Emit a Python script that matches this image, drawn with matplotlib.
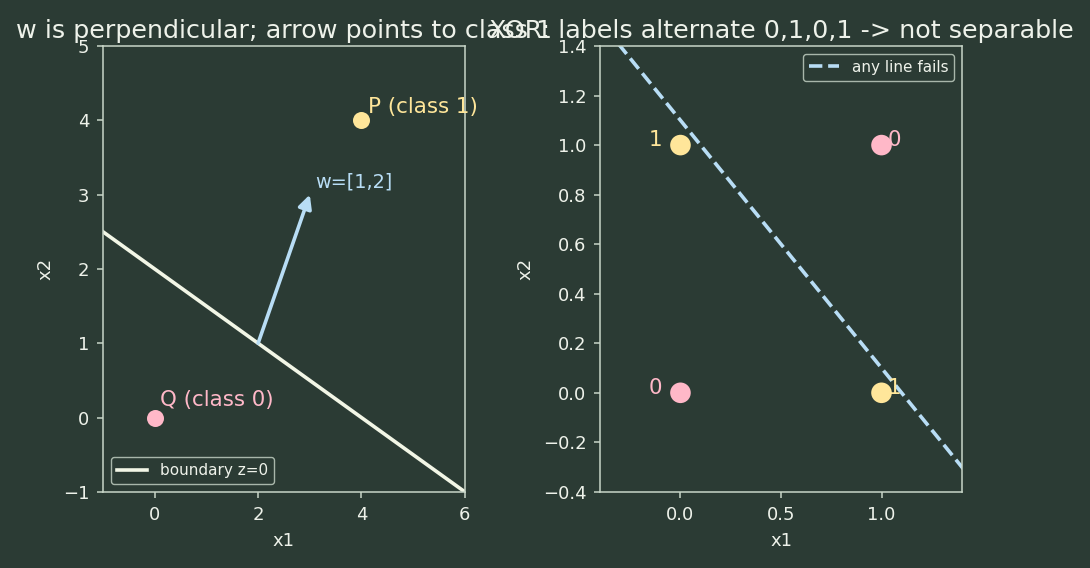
import matplotlib
matplotlib.use("Agg")
import matplotlib.pyplot as plt
import numpy as np

BG = "#2b3b34"
FG = "#eef2ea"
SPINE = "#c8d6c8"
YEL = "#ffe69a"
PINK = "#ffb8c8"
BLUE = "#b8ddf5"
LINEC = "#f2f6e6"

# Left panel data
w = [1, 2]
b = -4
P = (4, 4)
Q = (0, 0)
arrow_start = (2, 1)
boundary_x = [-1, 6]

# Right panel data (XOR)
xor_x = [0, 0, 1, 1]
xor_y = [0, 1, 0, 1]
xor_lab = [0, 1, 1, 0]
fail_x = [-0.5, 1.5]
fail_intercept = 1.1

plt.rcParams.update({
    "figure.facecolor": BG, "axes.facecolor": BG, "savefig.facecolor": BG,
    "axes.edgecolor": SPINE, "text.color": FG, "axes.labelcolor": FG,
    "xtick.color": SPINE, "ytick.color": SPINE,
    "xtick.labelcolor": FG, "ytick.labelcolor": FG,
    "font.size": 13,
    "xtick.major.size": 4.5, "ytick.major.size": 4.5,
    "xtick.major.width": 1.1, "ytick.major.width": 1.1,
    "xtick.major.pad": 5.6, "ytick.major.pad": 5.2,
    "axes.labelpad": 6.0,
    "axes.linewidth": 1.1,
})

fig = plt.figure(figsize=(10.9, 5.68), dpi=100)
ax1 = fig.add_axes([0.0945, 0.134, 0.332, 0.785])
ax2 = fig.add_axes([0.5505, 0.134, 0.332, 0.785])

bx = np.array(boundary_x, dtype=float)
by = -(w[0] * bx + b) / w[1]
ax1.plot(bx, by, color=LINEC, lw=2.6, label="boundary z=0")
ax1.scatter([P[0]], [P[1]], s=150, color=YEL, zorder=3, linewidths=0)
ax1.scatter([Q[0]], [Q[1]], s=150, color=PINK, zorder=3, linewidths=0)
ax1.text(P[0] + 0.12, P[1] + 0.1, "P (class 1)", color=YEL, fontsize=15.4, clip_on=False)
ax1.text(Q[0] + 0.1, Q[1] + 0.15, "Q (class 0)", color=PINK, fontsize=15.4)
ax1.annotate("", xy=(arrow_start[0] + w[0], arrow_start[1] + w[1]), xytext=arrow_start,
             arrowprops=dict(arrowstyle="-|>", color=BLUE, lw=2.6, mutation_scale=20,
                             shrinkA=0, shrinkB=0))
ax1.text(arrow_start[0] + w[0] + 0.1, arrow_start[1] + w[1] + 0.1, "w=[1,2]", color=BLUE, fontsize=13.9)
ax1.set_xlim(-1, 6)
ax1.set_ylim(-1, 5)
ax1.set_xlabel("x1")
ax1.set_ylabel("x2")
ax1.set_title("w is perpendicular; arrow points to class 1", fontsize=18.3, color=FG)
ax1.legend(loc="lower left", fontsize=11, facecolor=BG, edgecolor=SPINE, labelcolor=FG)

cols = [YEL if l == 1 else PINK for l in xor_lab]
ax2.scatter(xor_x, xor_y, s=220, c=cols, zorder=3, linewidths=0)
for xx, yy, l in zip(xor_x, xor_y, xor_lab):
    c = YEL if l == 1 else PINK
    if xx == 0:
        ax2.text(xx - 0.16, yy + 0.02, str(l), color=c, fontsize=15.4, va="center")
    else:
        ax2.text(xx + 0.03, yy + 0.02, str(l), color=c, fontsize=15.4, va="center")
fx = np.array(fail_x)
ax2.plot(fx, fail_intercept - fx, "--", color=BLUE, lw=2.6, label="any line fails")
ax2.set_xlim(-0.4, 1.4)
ax2.set_ylim(-0.4, 1.4)
ax2.set_xlabel("x1")
ax2.set_ylabel("x2")
ax2.set_title("XOR: labels alternate 0,1,0,1 -> not separable", fontsize=18.3, color=FG)
ax2.legend(loc="upper right", fontsize=11, facecolor=BG, edgecolor=SPINE, labelcolor=FG)

fig.savefig("out.png", dpi=100)
